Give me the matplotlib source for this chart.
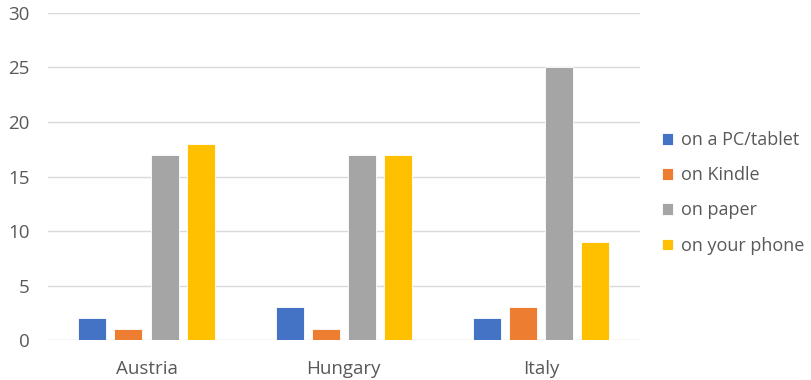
import numpy as np
import matplotlib.pyplot as plt

countries = ['Austria', 'Hungary', 'Italy']
series = ['on a PC/tablet', 'on Kindle', 'on paper', 'on your phone']
pc_tablet = [2, 3, 2]
kindle = [1, 1, 3]
paper = [17, 17, 25]
phone = [18, 17, 9]
colors = ['#4472C4', '#ED7D31', '#A5A5A5', '#FFC000']

plt.rcParams['font.family'] = ['Open Sans', 'DejaVu Sans']
text_col = '#595959'

fig = plt.figure(figsize=(8.11, 3.80), dpi=100)
ax = fig.add_axes([0.059, 0.105, 0.730, 0.861])

x = np.arange(len(countries))
pitch = 0.183
width = 0.142
for i, (vals, name) in enumerate(zip([pc_tablet, kindle, paper, phone], series)):
    ax.bar(x + (i - 1.5) * pitch, vals, width, color=colors[i], label=name,
           edgecolor='white', linewidth=0.6, zorder=3)

ax.set_xlim(-0.5, 2.5)
ax.set_ylim(0, 30)
ax.set_yticks(range(0, 31, 5))
ax.set_xticks(x)
ax.set_xticklabels(countries)
ax.grid(axis='y', color='#d9d9d9', lw=1, zorder=0)
for s in ax.spines.values():
    s.set_visible(False)
ax.tick_params(length=0, colors=text_col, labelsize=13.5)
ax.tick_params(axis='x', pad=14)
ax.tick_params(axis='y', pad=13)

leg = ax.legend(loc='center left', bbox_to_anchor=(1.01, 0.45), frameon=False,
                fontsize=13, handlelength=0.6, handleheight=0.6, handletextpad=0.45,
                labelspacing=0.95, labelcolor=text_col)

fig.savefig('out.png', dpi=100)
